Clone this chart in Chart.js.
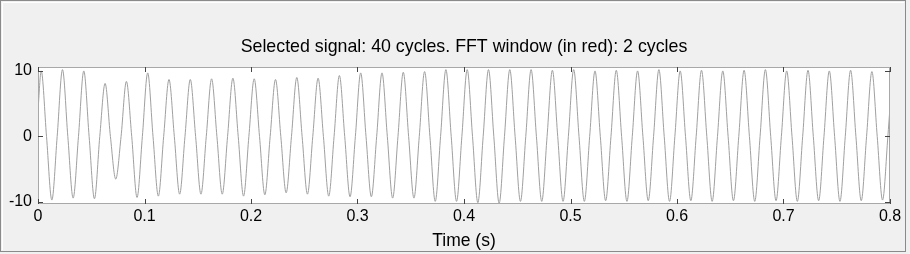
<!DOCTYPE html>
<html>
<head>
<meta charset="utf-8">
<script src="https://cdn.jsdelivr.net/npm/chart.js@4/dist/chart.umd.min.js"></script>
<style>
html,body{margin:0;padding:0;background:#f0f0f0;}
#mycanvas{display:block;}
</style>
</head>
<body>
<canvas id="mycanvas" width="910" height="254"></canvas>
<script>
// peak / trough values of each of the 40 cycles
var peaks = [10.0, 10.2, 10.0, 8.1, 8.4, 9.7, 8.7, 8.7, 8.8, 8.9,
             8.8, 8.7, 9.0, 8.9, 9.3, 9.7, 9.7, 9.8, 9.9, 10.2,
             10.2, 10.2, 10.2, 10.2, 10.1, 10.2, 10.0, 10.1, 10.0, 10.2,
             10.0, 10.1, 10.0, 10.1, 10.2, 10.0, 10.1, 10.0, 10.1, 9.9];
var troughs = [-9.7, -9.4, -9.5, -6.5, -9.3, -9.1, -8.8, -8.8, -8.8, -9.1,
               -8.9, -8.6, -8.8, -9.1, -9.2, -9.2, -9.4, -9.4, -9.9, -9.9,
               -10.1, -10.2, -9.9, -9.9, -9.9, -9.9, -9.8, -9.9, -9.8, -9.9,
               -9.8, -9.9, -9.8, -9.9, -9.8, -9.9, -9.8, -9.9, -9.8, -9.7];
var startValue = 4.0;
var endValue = 4.5;
var firstPeak = 0.003;   // s
var period = 0.02;       // s (50 Hz)

var xTicks = [0, 0.1, 0.2, 0.3, 0.4, 0.5, 0.6, 0.7, 0.8];
var yTicks = [-10, 0, 10];
var titleText = 'Selected signal: 40 cycles. FFT window (in red): 2 cycles';
var xTitle = 'Time (s)';

// build the point list: peak, zero crossing, trough, zero crossing per cycle
var pts = [{x: 0, y: startValue}];
for (var i = 0; i < peaks.length; i++) {
	var tp = firstPeak + i * period;
	pts.push({x: tp, y: peaks[i]});
	pts.push({x: tp + period / 4, y: 0});
	pts.push({x: tp + period / 2, y: troughs[i]});
	if (tp + period * 3 / 4 < 0.8) pts.push({x: tp + period * 3 / 4, y: 0});
}
pts.push({x: 0.8, y: endValue});

var font = 'Liberation Sans, Arial, sans-serif';

var matlabLook = {
	id: 'matlabLook',
	beforeDraw: function(chart) {
		var c = chart.ctx;
		c.save();
		c.fillStyle = '#f0f0f0';
		c.fillRect(0, 0, chart.width, chart.height);
		// panel frame
		c.strokeStyle = '#8a8a8a';
		c.lineWidth = 1;
		c.strokeRect(0.5, 0.5, 905, 251);
		c.strokeStyle = '#ffffff';
		c.beginPath();
		c.moveTo(2.5, 250); c.lineTo(2.5, 2.5); c.lineTo(904, 2.5);
		c.stroke();
		var a = chart.chartArea;
		c.fillStyle = '#ffffff';
		c.fillRect(a.left, a.top, a.right - a.left, a.bottom - a.top);
		// title
		c.fillStyle = '#000';
		c.font = '17.8px ' + font;
		c.textAlign = 'center';
		c.textBaseline = 'middle';
		c.fillText(titleText, (a.left + a.right) / 2, 47);
		c.restore();
	},
	afterDraw: function(chart) {
		var c = chart.ctx, a = chart.chartArea;
		var xs = chart.scales.x, ys = chart.scales.y;
		c.save();
		c.strokeStyle = '#a8a8a8';
		c.lineWidth = 1;
		c.strokeRect(Math.round(a.left) + 0.5, Math.round(a.top) + 0.5,
			Math.round(a.right - a.left) - 1, Math.round(a.bottom - a.top) - 1);
		c.strokeStyle = '#444';
		c.beginPath();
		xTicks.forEach(function(v) {
			var px = Math.round(xs.getPixelForValue(v)) + 0.5;
			c.moveTo(px, a.bottom); c.lineTo(px, a.bottom - 5);
			c.moveTo(px, a.top); c.lineTo(px, a.top + 5);
		});
		yTicks.forEach(function(v) {
			var py = Math.round(ys.getPixelForValue(v)) + 0.5;
			c.moveTo(a.left, py); c.lineTo(a.left + 5, py);
			c.moveTo(a.right, py); c.lineTo(a.right - 5, py);
		});
		c.stroke();
		c.restore();
	}
};

var ctx = document.getElementById('mycanvas');
var chart = new Chart(ctx, {
	type: 'line',
	data: {
		datasets: [{
			data: pts,
			borderColor: '#a0a0a0',
			borderWidth: 1,
			pointRadius: 0,
			cubicInterpolationMode: 'monotone',
			fill: false
		}]
	},
	options: {
		responsive: false,
		animation: false,
		events: [],
		layout: {padding: {left: 0, right: 20, top: 67, bottom: 0}},
		plugins: {legend: {display: false}, tooltip: {enabled: false}, title: {display: false}},
		scales: {
			x: {
				type: 'linear',
				min: 0,
				max: 0.8,
				afterBuildTicks: function(s) { s.ticks = xTicks.map(function(v) { return {value: v}; }); },
				afterFit: function(s) { s.height = 50; },
				grid: {display: false, drawTicks: false},
				border: {display: false},
				ticks: {
					color: '#000',
					padding: 3,
					font: {family: font, size: 16},
					maxRotation: 0,
					autoSkip: false,
					callback: function(v) { return String(Number(v.toFixed(1))); }
				},
				title: {display: true, text: xTitle, color: '#000', font: {family: font, size: 17.5}, padding: {top: 0, bottom: 2}}
			},
			y: {
				type: 'linear',
				min: -10.3,
				max: 10.6,
				afterBuildTicks: function(s) { s.ticks = yTicks.map(function(v) { return {value: v}; }); },
				afterFit: function(s) { s.width = 38; },
				grid: {display: false, drawTicks: false},
				border: {display: false},
				ticks: {
					color: '#000',
					padding: 6,
					font: {family: font, size: 16},
					callback: function(v) { return String(v); }
				}
			}
		}
	},
	plugins: [matlabLook]
});
</script>
</body>
</html>
